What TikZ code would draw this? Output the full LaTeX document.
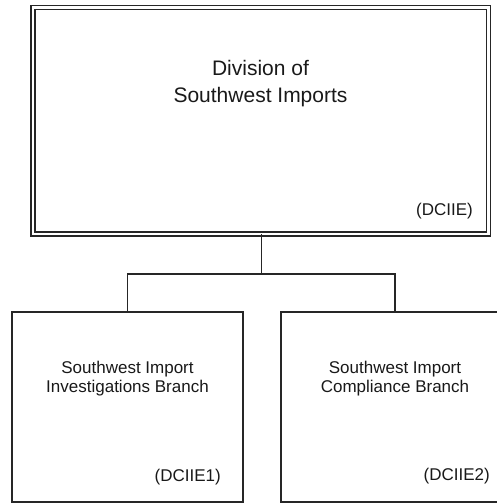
\documentclass[tikz,border=0pt]{standalone}
\usepackage{fontspec}
\setmainfont{Liberation Sans}
\begin{document}
\begin{tikzpicture}[x=1pt,y=-1pt,
  unitbox/.style={draw=black!85, line width=1.8pt, fill=white, rectangle, inner sep=0pt, outer sep=0pt},
  topbox/.style={draw=black!85, double=white, double distance=2.2pt, line width=1.6pt, rectangle, inner sep=0pt, outer sep=0pt},
  link/.style={draw=black!85, line width=1.8pt},
  titletext/.style={font=\fontsize{21}{27}\selectfont, align=center, anchor=base, inner sep=0pt, text=black!90},
  unittext/.style={font=\fontsize{17}{19.5}\selectfont, align=center, anchor=base, inner sep=0pt, text=black!90},
  codetext/.style={font=\fontsize{17}{20}\selectfont, anchor=base east, inner sep=0pt, text=black!90}
]
\useasboundingbox (0,0) rectangle (496,504);
\node[topbox, minimum width=455.5pt, minimum height=226.5pt] (top) at (260.75,120.75) {};
\node[unitbox, minimum width=231pt, minimum height=190pt] (left) at (127.5,407) {};
\node[unitbox, minimum width=228pt, minimum height=190pt] (right) at (395,407) {};
\coordinate (j) at (261.5,274);
\draw[link] (top.south -| j) -- (j);
\draw[link] (left.north) |- (j) -| (right.north);
\node[titletext] (ttl) at (260.5,102) {Division of\\Southwest Imports};
\node[codetext] (tcode) at (473,215) {(DCIIE)};
\node[unittext] (ltxt) at (127.5,392.5) {Southwest Import\\Investigations Branch};
\node[codetext] (lcode) at (221,481) {(DCIIE1)};
\node[unittext] (rtxt) at (395,392.5) {Southwest Import\\Compliance Branch};
\node[codetext] (rcode) at (490,480) {(DCIIE2)};
\end{tikzpicture}
\end{document}
